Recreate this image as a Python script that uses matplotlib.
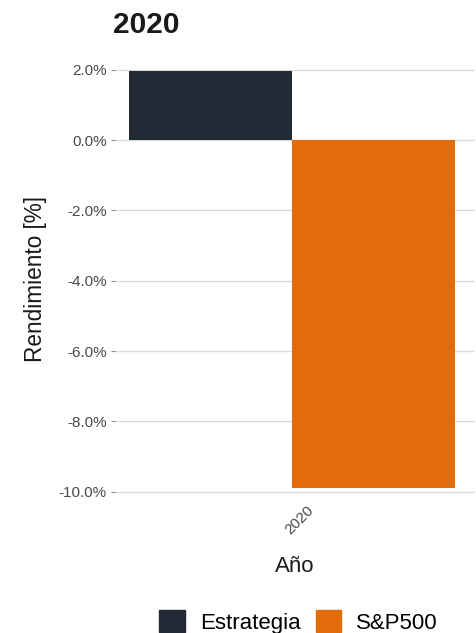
import numpy as np
import matplotlib
matplotlib.use("Agg")
import matplotlib.pyplot as plt
import matplotlib.transforms as mtransforms
from matplotlib.patches import Patch
from matplotlib.ticker import FuncFormatter

plt.rcParams["font.family"] = ["Liberation Sans", "DejaVu Sans"]

# datos
anio = ["2020"]
series = ["Estrategia", "S&P500"]
rend_estrategia = [1.97]
rend_sp500 = [-9.88]
colores = ["#232a36", "#e36c0a"]

fig = plt.figure(figsize=(4.77, 6.33), dpi=100)
ax = fig.add_axes([0.241, 0.197, 0.755, 0.724])

x = np.arange(len(anio))
w = 0.45
ax.bar(x - w / 2, rend_estrategia, width=w, color=colores[0], zorder=2)
ax.bar(x + w / 2, rend_sp500, width=w, color=colores[1], zorder=2)

ax.set_xlim(-0.489, 0.505)
ax.set_ylim(-10.47, 2.56)
ax.set_yticks(np.arange(-10, 3, 2))
ax.yaxis.set_major_formatter(FuncFormatter(lambda v, p: f"{v:.1f}%"))

ax.grid(axis="y", color="#dcdcdc", linewidth=1, zorder=0)
for s in ax.spines.values():
    s.set_visible(False)
ax.tick_params(axis="y", length=3, color="#888888", labelcolor="#4a4a4a", labelsize=11, pad=3)
ax.tick_params(axis="x", length=0, labelcolor="#4a4a4a", labelsize=11, pad=0)

ax.set_xticks(x)
ax.set_xticklabels(anio, rotation=45, ha="center", va="top")
# mover la etiqueta rotada un poco a la derecha
off = mtransforms.ScaledTranslation(7 / 100, 5 / 100, fig.dpi_scale_trans)
for lab in ax.get_xticklabels():
    lab.set_transform(lab.get_transform() + off)

ax.set_ylabel("Rendimiento [%]", fontsize=16.3, color="#1a1a1a")
ax.yaxis.set_label_coords(-0.188, 0.5)
ax.set_xlabel("Año", fontsize=16, color="#1a1a1a")
ax.xaxis.set_label_coords(0.5, -0.104)
fig.text(0.237, 1 - 33 / 633, "2020", fontsize=21.5, fontweight="bold", color="#1a1a1a",
         va="baseline")

handles = [Patch(color=c, label=s) for c, s in zip(colores, series)]
fig.legend(handles=handles, loc="center", bbox_to_anchor=(0.626, 1 - 622 / 633), ncol=2,
           frameon=False, fontsize=16, handlelength=1.13, handleheight=1.13,
           columnspacing=0.7, handletextpad=0.68, borderpad=0)

fig.savefig("out.png", dpi=100)
